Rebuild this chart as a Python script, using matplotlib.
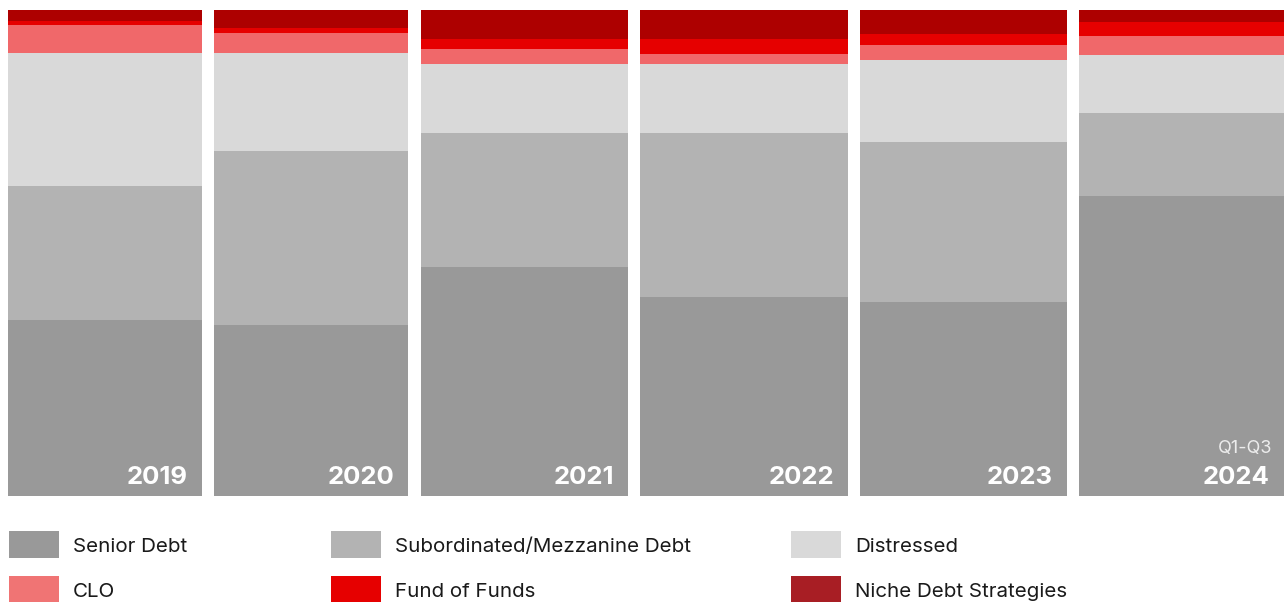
import matplotlib.pyplot as plt
from matplotlib.patches import Rectangle

plt.rcParams['font.family'] = ['Inter', 'DejaVu Sans']

years = ['2019', '2020', '2021', '2022', '2023', '2024']
senior = [36.2, 35.3, 47.2, 41.0, 39.9, 61.7]
subordinated = [27.6, 35.7, 27.6, 33.8, 33.1, 17.1]
distressed = [27.4, 20.2, 14.2, 14.2, 16.9, 12.1]
clo = [5.8, 4.1, 3.1, 2.1, 2.9, 3.9]
fund_of_funds = [0.8, 1.0, 2.1, 3.1, 2.3, 2.9]
niche = [2.3, 3.7, 5.8, 5.8, 4.9, 2.3]

series = [senior, subordinated, distressed, clo, fund_of_funds, niche]
labels = ['Senior Debt', 'Subordinated/Mezzanine Debt', 'Distressed',
          'CLO', 'Fund of Funds', 'Niche Debt Strategies']
bar_colors = ['#999999', '#b3b3b3', '#d9d9d9', '#f0686a', '#e60000', '#ad0000']
legend_colors = ['#999999', '#b3b3b3', '#d9d9d9', '#f07474', '#e60000', '#a81e24']

W, H = 1284, 602
fig = plt.figure(figsize=(W / 100, H / 100), dpi=100)
ax = fig.add_axes([0, (H - 496) / H, 1, (496 - 10) / H])

# bar edges in the original layout are not quite uniform
edges = [(8, 202), (214, 408), (421, 628), (640, 848), (860, 1067), (1079, 1284)]
centers = [(a + b) / 2 for a, b in edges]
widths = [b - a for a, b in edges]

bottom = [0.0] * len(years)
for vals, col in zip(series, bar_colors):
    ax.bar(centers, vals, bottom=bottom, width=widths, color=col, linewidth=0)
    bottom = [b + v for b, v in zip(bottom, vals)]

ax.set_xlim(0, W)
ax.set_ylim(0, max(bottom))
ax.axis('off')

for (a, b), yr in zip(edges, years):
    ax.annotate(yr, xy=(b, 0), xytext=(-14, 12), textcoords='offset pixels',
                ha='right', va='baseline', color='white', fontsize=18.5, fontweight='bold')
ax.annotate('Q1-Q3', xy=(edges[-1][1], 0), xytext=(-12, 43),
            textcoords='offset pixels', ha='right', va='baseline',
            color='#ececec', fontsize=13)

# legend drawn by hand to keep the three-column layout
sw_x = [9, 331, 791]
rows_y = [545, 590]
for k, (lab, col) in enumerate(zip(labels, legend_colors)):
    r, c = divmod(k, 3)
    cy = rows_y[r]
    fig.patches.append(Rectangle((sw_x[c] / W, (H - cy - 13) / H), 50 / W, 27 / H,
                                 transform=fig.transFigure, color=col, linewidth=0))
    fig.text((sw_x[c] + 64) / W, (H - cy - 2) / H, lab, ha='left', va='center',
             fontsize=14.8, color='#1a1a1a')

fig.savefig('out.png', dpi=100)
